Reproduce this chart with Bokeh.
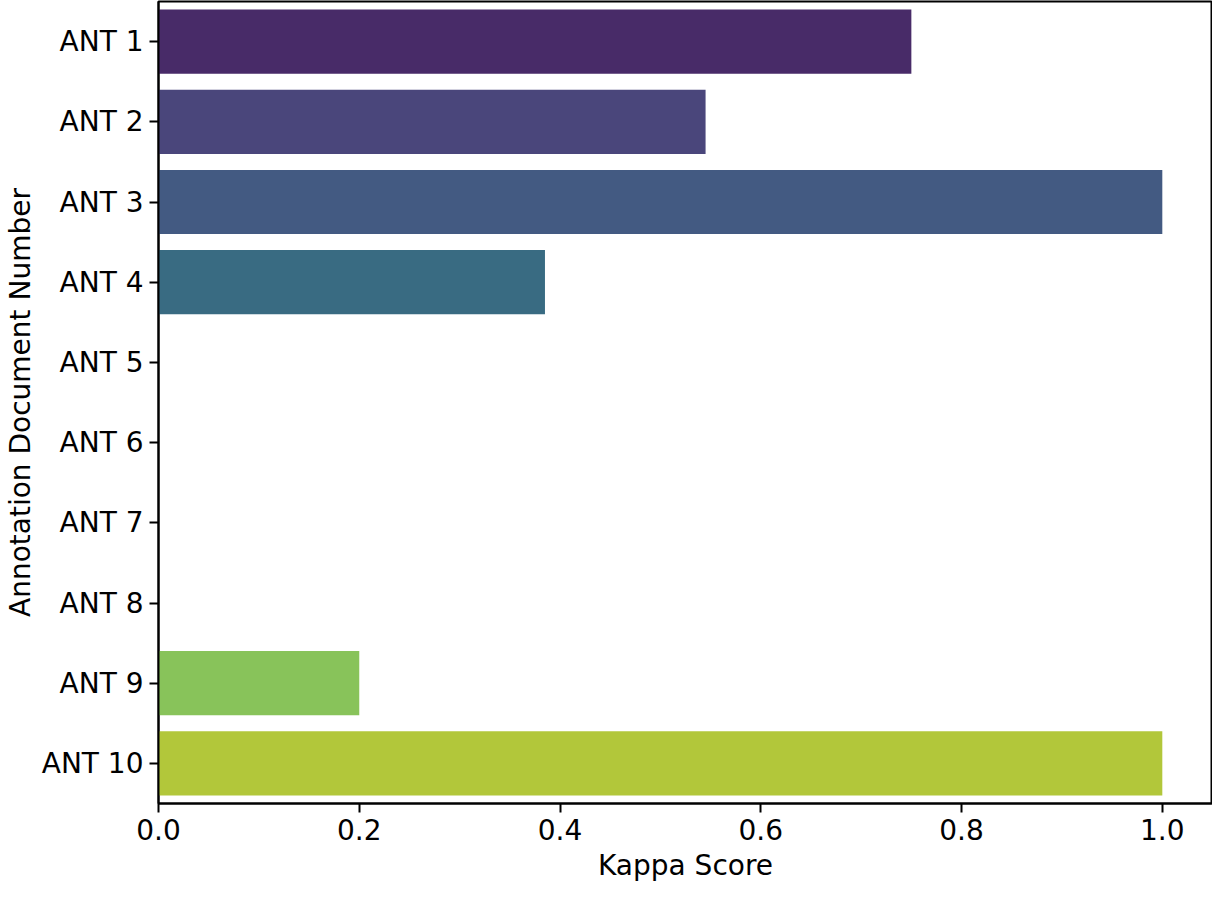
import colorsys
from bokeh.plotting import figure
from bokeh.models import FactorRange, Range1d, FixedTicker, ColumnDataSource
from bokeh.palettes import Viridis256
from bokeh.embed import file_html
from bokeh.resources import INLINE

categories = ["ANT 1", "ANT 2", "ANT 3", "ANT 4", "ANT 5",
              "ANT 6", "ANT 7", "ANT 8", "ANT 9", "ANT 10"]
kappa = [0.75, 0.545, 1.0, 0.385, 0.0, 0.0, 0.0, 0.0, 0.2, 1.0]
x_ticks = [0.0, 0.2, 0.4, 0.6, 0.8, 1.0]


def desaturate(hexc, prop=0.75):
    r, g, b = (int(hexc[i:i + 2], 16) / 255 for i in (1, 3, 5))
    h, l, s = colorsys.rgb_to_hls(r, g, b)
    r, g, b = colorsys.hls_to_rgb(h, l, s * prop)
    return "#%02x%02x%02x" % (round(r * 255), round(g * 255), round(b * 255))


n = len(categories)
idx = [min(255, int(256 * (i + 1) / (n + 1))) for i in range(n)]
colors = [desaturate(Viridis256[i]) for i in idx]

src = ColumnDataSource(dict(cat=categories, val=kappa, color=colors))

FONT = "DejaVu Sans"
FS = "28px"

p = figure(width=1212, height=884, output_backend="svg", toolbar_location=None,
           y_range=FactorRange(factors=categories[::-1]),
           x_range=Range1d(0, 1.05),
           min_border_left=150, min_border_right=0, min_border_top=1,
           min_border_bottom=10)

p.hbar(y="cat", left=0, right="val", height=0.8, color="color", source=src,
       line_color=None)

p.xgrid.visible = False
p.ygrid.visible = False
p.outline_line_color = "black"
p.outline_line_width = 2
p.background_fill_color = "white"
p.border_fill_color = "white"

p.xaxis.ticker = FixedTicker(ticks=x_ticks)
p.xaxis.major_label_overrides = {t: "%.1f" % t for t in x_ticks}
p.xaxis.axis_label = "Kappa Score"
p.yaxis.axis_label = "Annotation Document Number"

for ax in (p.xaxis, p.yaxis):
    ax.axis_line_color = "black"
    ax.axis_line_width = 2
    ax.major_tick_line_color = "black"
    ax.major_tick_line_width = 2
    ax.major_tick_out = 9
    ax.major_tick_in = 0
    ax.minor_tick_line_color = None
    ax.major_label_text_font = FONT
    ax.major_label_text_font_size = FS
    ax.major_label_text_color = "black"
    ax.axis_label_text_font = FONT
    ax.axis_label_text_font_size = FS
    ax.axis_label_text_font_style = "normal"
    ax.axis_label_text_color = "black"

p.yaxis.major_label_standoff = 6
p.xaxis.major_label_standoff = 6
p.yaxis.axis_label_standoff = 2
p.xaxis.axis_label_standoff = 6

open("out.html", "w").write(file_html(p, INLINE))
